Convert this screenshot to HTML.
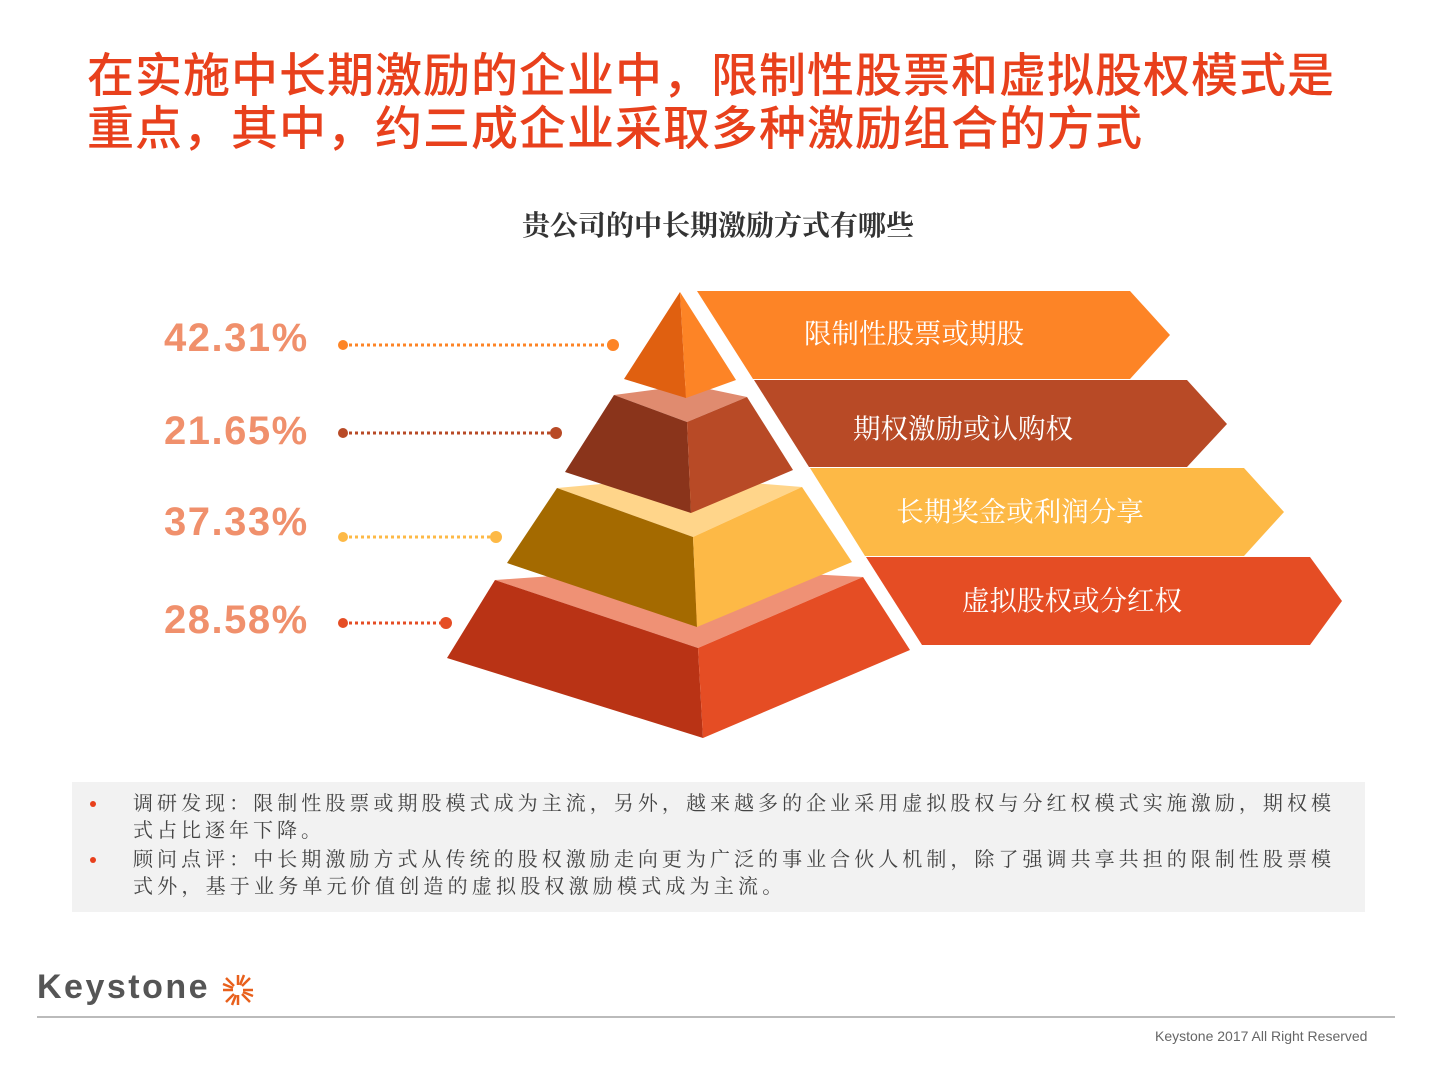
<!DOCTYPE html>
<html><head><meta charset="utf-8"><style>
body{margin:0;width:1440px;height:1080px;background:#fff;position:relative;overflow:hidden;font-family:"Liberation Sans","Noto Sans CJK SC",sans-serif}
.t{position:absolute;left:87px;color:#e8401c;font-size:47px;line-height:53px;font-weight:500;letter-spacing:1px;white-space:nowrap}
.sub{position:absolute;left:0;width:1436px;top:204px;text-align:center;font-family:"Liberation Serif","Noto Serif CJK SC",serif;font-size:28px;font-weight:bold;color:#333}
.pct{position:absolute;left:164px;font-size:40px;font-weight:bold;color:#f0906c;line-height:40px;letter-spacing:1.5px}
.box{position:absolute;left:72px;top:782px;width:1293px;height:130px;background:#f2f2f2}
.ln{position:absolute;left:133px;width:1198px;font-family:"Liberation Serif","Noto Serif CJK SC",serif;font-size:20px;color:#444;line-height:27px;white-space:nowrap}
.j{text-align:justify;text-align-last:justify}
.b{position:absolute;left:90px;width:6px;height:6px;border-radius:3px;background:#e8401c}
</style></head><body>
<div class="t" style="top:49px">在实施中长期激励的企业中，限制性股票和虚拟股权模式是</div>
<div class="t" style="top:102px">重点，其中，约三成企业采取多种激励组合的方式</div>
<div class="sub">贵公司的中长期激励方式有哪些</div>
<div class="pct" style="top:318px">42.31%</div>
<div class="pct" style="top:411px">21.65%</div>
<div class="pct" style="top:502px">37.33%</div>
<div class="pct" style="top:600px">28.58%</div>
<svg width="1440" height="1080" style="position:absolute;left:0;top:0">
<g stroke-width="3" stroke-dasharray="3,3">
<line x1="343" y1="345" x2="613" y2="345" stroke="#fd8426"/>
<line x1="343" y1="433" x2="556" y2="433" stroke="#b84a26"/>
<line x1="343" y1="537" x2="496" y2="537" stroke="#fdb946"/>
<line x1="343" y1="623" x2="446" y2="623" stroke="#e54d24"/>
</g>
<circle cx="343" cy="345" r="5" fill="#fd8426"/><circle cx="613" cy="345" r="6" fill="#fd8426"/>
<circle cx="343" cy="433" r="5" fill="#b84a26"/><circle cx="556" cy="433" r="6" fill="#b84a26"/>
<circle cx="343" cy="537" r="5" fill="#fdb946"/><circle cx="496" cy="537" r="6" fill="#fdb946"/>
<circle cx="343" cy="623" r="5" fill="#e54d24"/><circle cx="446" cy="623" r="6" fill="#e54d24"/>
<polygon points="697,291 1130,291 1170,335 1130,379 753,379" fill="#fd8426"/>
<polygon points="754,380 1187,380 1227,424 1187,467 809,467" fill="#b84a26"/>
<polygon points="810,468 1244,468 1284,512 1244,556 865,556" fill="#fdb946"/>
<polygon points="866,557 1310,557 1342,601 1310,645 922,645" fill="#e54d24"/>
<polygon points="495,580 680,567 863,577 698,648" fill="#ef9175"/>
<polygon points="495,580 698,648 703,738 447,658" fill="#b93315"/>
<polygon points="698,648 863,577 910,650 703,738" fill="#e54d24"/>
<polygon points="557,488 678,477 802,487 693,537" fill="#ffd58a"/>
<polygon points="557,488 693,537 697,627 507,563" fill="#a46a00"/>
<polygon points="693,537 802,487 852,562 697,627" fill="#fdb946"/>
<polygon points="614,395 690,385 747,397 687,422" fill="#e08b6f"/>
<polygon points="614,395 687,422 691,513 565,472" fill="#8a341b"/>
<polygon points="687,422 747,397 793,470 691,513" fill="#b84a26"/>
<polygon points="680,292 686,398 624,379" fill="#e06010"/>
<polygon points="680,292 736,380 686,398" fill="#fd8426"/>
<g font-family="Liberation Serif,Noto Serif CJK SC,serif" font-size="27.5" fill="#fff" text-anchor="middle">
<text x="914" y="343">限制性股票或期股</text>
<text x="963" y="438">期权激励或认购权</text>
<text x="1020" y="521">长期奖金或利润分享</text>
<text x="1072" y="610">虚拟股权或分红权</text>
</g>
<g transform="translate(238,990)" stroke="#e8601c" stroke-width="2.5">
<line x1="-4" y1="-4" x2="-12" y2="-12"/><line x1="4" y1="-4" x2="12" y2="-12"/><line x1="-4" y1="4" x2="-12" y2="12"/><line x1="4" y1="4" x2="12" y2="12"/>
<line x1="0" y1="-5" x2="0" y2="-15"/><line x1="0" y1="5" x2="0" y2="15"/><line x1="-5" y1="0" x2="-15" y2="0"/><line x1="5" y1="0" x2="15" y2="0"/>
<line x1="-5" y1="-2" x2="-15" y2="-6"/><line x1="5" y1="2" x2="15" y2="6"/><line x1="-2" y1="5" x2="-6" y2="15"/><line x1="2" y1="-5" x2="6" y2="-15"/>
</g>
<line x1="37" y1="1017" x2="1395" y2="1017" stroke="#bbb" stroke-width="2"/>
</svg>
<div class="box"></div>
<div class="b" style="top:801px"></div>
<div class="b" style="top:857px"></div>
<div class="ln j" style="top:791px">调研发现：限制性股票或期股模式成为主流，另外，越来越多的企业采用虚拟股权与分红权模式实施激励，期权模</div>
<div class="ln" style="top:818px;letter-spacing:4px">式占比逐年下降。</div>
<div class="ln j" style="top:847px">顾问点评：中长期激励方式从传统的股权激励走向更为广泛的事业合伙人机制，除了强调共享共担的限制性股票模</div>
<div class="ln" style="top:874px;letter-spacing:4.2px">式外，基于业务单元价值创造的虚拟股权激励模式成为主流。</div>
<div style="position:absolute;left:37px;top:967px;font-size:34px;font-weight:bold;color:#555;letter-spacing:2.5px;line-height:40px">Keystone</div>
<div style="position:absolute;left:1155px;top:1028px;font-size:14px;color:#666">Keystone 2017 All Right Reserved</div>
</body></html>
